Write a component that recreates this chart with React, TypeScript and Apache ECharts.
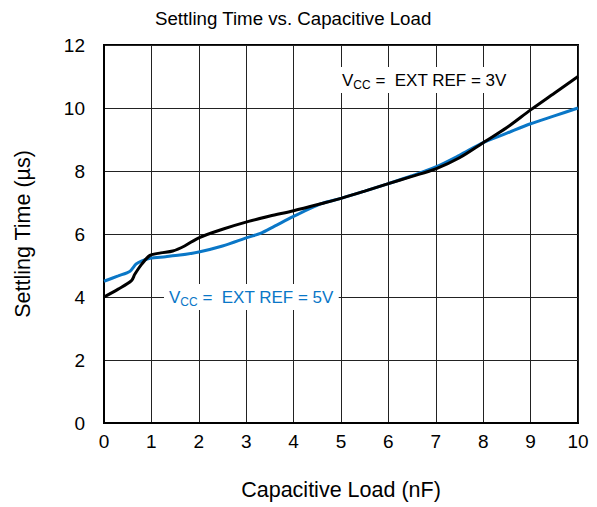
import React, { useEffect, useRef } from "react";
import * as echarts from "echarts";

const titleText = "Settling Time vs. Capacitive Load";
const xName = "Capacitive Load (nF)";
const yName = "Settling Time (µs)";

const loadNF3V = [0, 0.3, 0.58, 0.65, 0.8, 0.97, 1.2, 1.45, 1.7, 2.0, 2.5, 3.05, 3.5, 4.0, 4.6, 5.0, 5.5, 6.0, 6.5, 7.0, 7.5, 8.0, 8.5, 9.0, 9.5, 10.0];
const time3V = [4.0, 4.25, 4.52, 4.72, 5.05, 5.32, 5.4, 5.46, 5.62, 5.88, 6.15, 6.4, 6.57, 6.74, 6.97, 7.13, 7.36, 7.6, 7.83, 8.07, 8.42, 8.9, 9.38, 9.94, 10.47, 11.0];

const loadNF5V = [0, 0.3, 0.55, 0.68, 0.8, 0.97, 1.3, 1.6, 2.0, 2.5, 3.05, 3.3, 3.6, 4.0, 4.6, 5.0, 5.5, 6.0, 6.5, 7.0, 7.5, 8.0, 8.5, 9.0, 9.5, 10.0];
const time5V = [4.5, 4.67, 4.82, 5.05, 5.15, 5.23, 5.28, 5.33, 5.43, 5.62, 5.9, 6.02, 6.25, 6.56, 6.97, 7.13, 7.36, 7.6, 7.85, 8.13, 8.5, 8.9, 9.2, 9.5, 9.75, 10.0];

const xTicks = [0, 1, 2, 3, 4, 5, 6, 7, 8, 9, 10];
const yTicks = [0, 2, 4, 6, 8, 10, 12];

const FONT = "Liberation Sans, Arial, sans-serif";
const BLUE = "#0a77c7";

export default function App() {
  const ref = useRef<HTMLDivElement>(null);
  useEffect(() => {
    if (!ref.current) return;
    const chart = echarts.init(ref.current, null, { renderer: "svg" });
    const pair = (xs: number[], ys: number[]) => xs.map((x, i) => [x, ys[i]]);
    const labelRich = (color: string) => ({
      a: { fontSize: 17, fontFamily: FONT, fill: color, lineHeight: 22, verticalAlign: "middle" },
      s: { fontSize: 12, fontFamily: FONT, fill: color, lineHeight: 22, verticalAlign: "bottom", padding: [9, 0, 0, 0] },
    });
    chart.setOption({
      animation: false,
      backgroundColor: "#fff",
      title: {
        text: titleText,
        left: 150,
        top: 4,
        textStyle: { fontFamily: FONT, fontSize: 18.7, fontWeight: "normal", color: "#000" },
      },
      grid: {
        left: 104,
        right: 19,
        top: 45,
        bottom: 84,
        show: true,
        borderColor: "#000",
        borderWidth: 2,
        backgroundColor: "transparent",
      },
      xAxis: {
        type: "value",
        min: 0,
        max: 10,
        interval: 1,
        name: xName,
        nameLocation: "middle",
        nameGap: 56,
        nameTextStyle: { fontFamily: FONT, fontSize: 21.5, color: "#000" },
        axisLine: { show: true, lineStyle: { color: "#000", width: 2 } },
        axisTick: { show: false },
        axisLabel: {
          fontFamily: FONT, fontSize: 19, color: "#000", margin: 9,
          formatter: (v: number) => (xTicks.includes(v) ? String(v) : ""),
        },
        splitLine: { show: true, lineStyle: { color: "#222", width: 1 } },
      },
      yAxis: {
        type: "value",
        min: 0,
        max: 12,
        interval: 2,
        name: yName,
        nameLocation: "middle",
        nameGap: 70,
        nameRotate: 90,
        nameTextStyle: { fontFamily: FONT, fontSize: 21.5, color: "#000" },
        axisLine: { show: true, lineStyle: { color: "#000", width: 2 } },
        axisTick: { show: false },
        axisLabel: {
          fontFamily: FONT, fontSize: 19, color: "#000", margin: 19,
          formatter: (v: number) => (yTicks.includes(v) ? String(v) : ""),
        },
        splitLine: { show: true, lineStyle: { color: "#222", width: 1 } },
      },
      series: [
        {
          name: "5V",
          type: "line",
          data: pair(loadNF5V, time5V),
          smooth: 0.3,
          showSymbol: false,
          lineStyle: { color: BLUE, width: 3 },
          z: 3,
        },
        {
          name: "3V",
          type: "line",
          data: pair(loadNF3V, time3V),
          smooth: 0.3,
          showSymbol: false,
          lineStyle: { color: "#000", width: 3 },
          z: 4,
        },
      ],
      graphic: [
        {
          type: "text",
          left: 337,
          top: 67,
          z: 10,
          style: {
            text: "{a|V}{s|CC}{a| =  EXT REF = 3V}",
            rich: labelRich("#000"),
            fill: "#000",
            backgroundColor: "#fff",
            padding: [2, 5, 2, 5],
          },
        },
        {
          type: "text",
          left: 164,
          top: 284,
          z: 10,
          style: {
            text: "{a|V}{s|CC}{a| =  EXT REF = 5V}",
            rich: labelRich(BLUE),
            fill: BLUE,
            backgroundColor: "#fff",
            padding: [2, 5, 2, 5],
          },
        },
      ],
    });
    return () => chart.dispose();
  }, []);
  return <div ref={ref} style={{ position: "fixed", left: 0, top: 0, width: 597, height: 507 }} />;
}
